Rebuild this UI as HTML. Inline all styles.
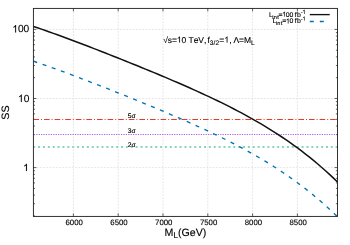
<!DOCTYPE html>
<html><head><meta charset="utf-8"><title>plot</title>
<style>
html,body{margin:0;padding:0;background:#fff;}
body{width:350px;height:245px;overflow:hidden;font-family:"Liberation Sans",sans-serif;}
svg{display:block;will-change:transform;}
text{font-family:"Liberation Sans",sans-serif;fill:#000;stroke:#000;stroke-width:0.12px;text-rendering:geometricPrecision;}
</style></head><body>
<svg width="350" height="245" viewBox="0 0 350 245">
<rect x="0" y="0" width="350" height="245" fill="#ffffff"/>

<g stroke="#dcdcdc" stroke-width="0.7" stroke-dasharray="2 1.2" fill="none">
<line x1="73.40" y1="8.4" x2="73.40" y2="216.4"/>
<line x1="118.20" y1="8.4" x2="118.20" y2="216.4"/>
<line x1="163.00" y1="8.4" x2="163.00" y2="216.4"/>
<line x1="207.80" y1="8.4" x2="207.80" y2="216.4"/>
<line x1="252.60" y1="8.4" x2="252.60" y2="216.4"/>
<line x1="297.40" y1="8.4" x2="297.40" y2="216.4"/>
<line x1="33.4" y1="29.40" x2="337.5" y2="29.40"/>
<line x1="33.4" y1="98.50" x2="337.5" y2="98.50"/>
<line x1="33.4" y1="167.60" x2="337.5" y2="167.60"/>
</g>
<g stroke="#222" stroke-width="0.7" fill="none">
<line x1="73.40" y1="216.4" x2="73.40" y2="213.4"/>
<line x1="73.40" y1="8.4" x2="73.40" y2="11.4"/>
<line x1="118.20" y1="216.4" x2="118.20" y2="213.4"/>
<line x1="118.20" y1="8.4" x2="118.20" y2="11.4"/>
<line x1="163.00" y1="216.4" x2="163.00" y2="213.4"/>
<line x1="163.00" y1="8.4" x2="163.00" y2="11.4"/>
<line x1="207.80" y1="216.4" x2="207.80" y2="213.4"/>
<line x1="207.80" y1="8.4" x2="207.80" y2="11.4"/>
<line x1="252.60" y1="216.4" x2="252.60" y2="213.4"/>
<line x1="252.60" y1="8.4" x2="252.60" y2="11.4"/>
<line x1="297.40" y1="216.4" x2="297.40" y2="213.4"/>
<line x1="297.40" y1="8.4" x2="297.40" y2="11.4"/>
<line x1="33.4" y1="29.40" x2="36.4" y2="29.40"/>
<line x1="337.5" y1="29.40" x2="334.5" y2="29.40"/>
<line x1="33.4" y1="98.50" x2="36.4" y2="98.50"/>
<line x1="337.5" y1="98.50" x2="334.5" y2="98.50"/>
<line x1="33.4" y1="167.60" x2="36.4" y2="167.60"/>
<line x1="337.5" y1="167.60" x2="334.5" y2="167.60"/>
<line x1="33.4" y1="215.90" x2="35.0" y2="215.90"/>
<line x1="337.5" y1="215.90" x2="335.9" y2="215.90"/>
<line x1="33.4" y1="203.73" x2="35.0" y2="203.73"/>
<line x1="337.5" y1="203.73" x2="335.9" y2="203.73"/>
<line x1="33.4" y1="195.10" x2="35.0" y2="195.10"/>
<line x1="337.5" y1="195.10" x2="335.9" y2="195.10"/>
<line x1="33.4" y1="188.40" x2="35.0" y2="188.40"/>
<line x1="337.5" y1="188.40" x2="335.9" y2="188.40"/>
<line x1="33.4" y1="182.93" x2="35.0" y2="182.93"/>
<line x1="337.5" y1="182.93" x2="335.9" y2="182.93"/>
<line x1="33.4" y1="178.30" x2="35.0" y2="178.30"/>
<line x1="337.5" y1="178.30" x2="335.9" y2="178.30"/>
<line x1="33.4" y1="174.30" x2="35.0" y2="174.30"/>
<line x1="337.5" y1="174.30" x2="335.9" y2="174.30"/>
<line x1="33.4" y1="170.76" x2="35.0" y2="170.76"/>
<line x1="337.5" y1="170.76" x2="335.9" y2="170.76"/>
<line x1="33.4" y1="146.80" x2="35.0" y2="146.80"/>
<line x1="337.5" y1="146.80" x2="335.9" y2="146.80"/>
<line x1="33.4" y1="134.63" x2="35.0" y2="134.63"/>
<line x1="337.5" y1="134.63" x2="335.9" y2="134.63"/>
<line x1="33.4" y1="126.00" x2="35.0" y2="126.00"/>
<line x1="337.5" y1="126.00" x2="335.9" y2="126.00"/>
<line x1="33.4" y1="119.30" x2="35.0" y2="119.30"/>
<line x1="337.5" y1="119.30" x2="335.9" y2="119.30"/>
<line x1="33.4" y1="113.83" x2="35.0" y2="113.83"/>
<line x1="337.5" y1="113.83" x2="335.9" y2="113.83"/>
<line x1="33.4" y1="109.20" x2="35.0" y2="109.20"/>
<line x1="337.5" y1="109.20" x2="335.9" y2="109.20"/>
<line x1="33.4" y1="105.20" x2="35.0" y2="105.20"/>
<line x1="337.5" y1="105.20" x2="335.9" y2="105.20"/>
<line x1="33.4" y1="101.66" x2="35.0" y2="101.66"/>
<line x1="337.5" y1="101.66" x2="335.9" y2="101.66"/>
<line x1="33.4" y1="77.70" x2="35.0" y2="77.70"/>
<line x1="337.5" y1="77.70" x2="335.9" y2="77.70"/>
<line x1="33.4" y1="65.53" x2="35.0" y2="65.53"/>
<line x1="337.5" y1="65.53" x2="335.9" y2="65.53"/>
<line x1="33.4" y1="56.90" x2="35.0" y2="56.90"/>
<line x1="337.5" y1="56.90" x2="335.9" y2="56.90"/>
<line x1="33.4" y1="50.20" x2="35.0" y2="50.20"/>
<line x1="337.5" y1="50.20" x2="335.9" y2="50.20"/>
<line x1="33.4" y1="44.73" x2="35.0" y2="44.73"/>
<line x1="337.5" y1="44.73" x2="335.9" y2="44.73"/>
<line x1="33.4" y1="40.10" x2="35.0" y2="40.10"/>
<line x1="337.5" y1="40.10" x2="335.9" y2="40.10"/>
<line x1="33.4" y1="36.10" x2="35.0" y2="36.10"/>
<line x1="337.5" y1="36.10" x2="335.9" y2="36.10"/>
<line x1="33.4" y1="32.56" x2="35.0" y2="32.56"/>
<line x1="337.5" y1="32.56" x2="335.9" y2="32.56"/>
</g>
<line x1="33.4" y1="119.5" x2="337.5" y2="119.5" stroke="#e5392b" stroke-width="1" stroke-dasharray="5.6 2 1 2"/>
<line x1="33.4" y1="134.5" x2="337.5" y2="134.5" stroke="#b05ae6" stroke-width="1.15" stroke-dasharray="1.2 1.22" stroke-dashoffset="-0.4"/>
<line x1="33.4" y1="147.0" x2="337.5" y2="147.0" stroke="#8ad4be" stroke-width="2" stroke-dasharray="2 2.88" stroke-dashoffset="-4.66"/>
<clipPath id="c"><rect x="33.4" y="8.4" width="304.1" height="208.0"/></clipPath>
<path d="M33.40,61.22 L36.44,62.24 L39.48,63.28 L42.53,64.32 L45.57,65.38 L48.61,66.45 L51.65,67.53 L54.69,68.61 L57.73,69.71 L60.78,70.82 L63.82,71.93 L66.86,73.06 L69.90,74.19 L72.94,75.32 L75.98,76.47 L79.03,77.62 L82.07,78.78 L85.11,79.94 L88.15,81.10 L91.19,82.28 L94.24,83.45 L97.28,84.64 L100.32,85.82 L103.36,87.01 L106.40,88.21 L109.44,89.41 L112.49,90.61 L115.53,91.82 L118.57,93.03 L121.61,94.24 L124.65,95.46 L127.69,96.68 L130.74,97.91 L133.78,99.14 L136.82,100.37 L139.86,101.61 L142.90,102.85 L145.95,104.10 L148.99,105.35 L152.03,106.61 L155.07,107.87 L158.11,109.14 L161.15,110.41 L164.20,111.69 L167.24,112.98 L170.28,114.27 L173.32,115.57 L176.36,116.88 L179.40,118.19 L182.45,119.52 L185.49,120.85 L188.53,122.19 L191.57,123.54 L194.61,124.91 L197.66,126.28 L200.70,127.67 L203.74,129.07 L206.78,130.48 L209.82,131.90 L212.86,133.34 L215.91,134.80 L218.95,136.27 L221.99,137.76 L225.03,139.26 L228.07,140.79 L231.11,142.33 L234.16,143.90 L237.20,145.48 L240.24,147.09 L243.28,148.71 L246.32,150.37 L249.36,152.05 L252.41,153.75 L255.45,155.48 L258.49,157.24 L261.53,159.03 L264.57,160.84 L267.62,162.69 L270.66,164.58 L273.70,166.49 L276.74,168.44 L279.78,170.43 L282.82,172.45 L285.87,174.51 L288.91,176.62 L291.95,178.76 L294.99,180.95 L298.03,183.18 L301.07,185.45 L304.12,187.78 L307.16,190.15 L310.20,192.57 L313.24,195.04 L316.28,197.57 L319.33,200.15 L322.37,202.79 L325.41,205.48 L328.45,208.23 L331.49,211.05 L334.53,213.92 L337.50,216.79" fill="none" stroke="#0072b2" stroke-width="1.35" stroke-dasharray="4.0 5.692" clip-path="url(#c)"/>
<path d="M33.40,26.42 L37.40,27.77 L41.40,29.13 L45.40,30.52 L49.41,31.93 L53.41,33.35 L57.41,34.79 L61.41,36.25 L65.41,37.72 L69.41,39.20 L73.41,40.70 L77.41,42.21 L81.42,43.73 L85.42,45.25 L89.42,46.79 L93.42,48.34 L97.42,49.89 L101.42,51.45 L105.42,53.02 L109.43,54.60 L113.43,56.18 L117.43,57.77 L121.43,59.37 L125.43,60.97 L129.43,62.58 L133.43,64.20 L137.43,65.82 L141.44,67.45 L145.44,69.09 L149.44,70.74 L153.44,72.39 L157.44,74.06 L161.44,75.73 L165.44,77.42 L169.44,79.11 L173.45,80.82 L177.45,82.54 L181.45,84.28 L185.45,86.03 L189.45,87.80 L193.45,89.59 L197.45,91.39 L201.46,93.22 L205.46,95.06 L209.46,96.93 L213.46,98.83 L217.46,100.75 L221.46,102.70 L225.46,104.68 L229.46,106.69 L233.47,108.74 L237.47,110.82 L241.47,112.94 L245.47,115.10 L249.47,117.30 L253.47,119.55 L257.47,121.85 L261.48,124.19 L265.48,126.59 L269.48,129.04 L273.48,131.55 L277.48,134.12 L281.48,136.75 L285.48,139.45 L289.48,142.22 L293.49,145.06 L297.49,147.97 L301.49,150.97 L305.49,154.04 L309.49,157.20 L313.49,160.45 L317.49,163.79 L321.49,167.22 L325.50,170.76 L329.50,174.39 L333.50,178.14 L337.50,181.99" fill="none" stroke="#111" stroke-width="1.5" stroke-linejoin="round"/>
<rect x="33.4" y="8.4" width="304.10" height="208.00" fill="none" stroke="#1c1c1c" stroke-width="0.9"/>
<text x="74.20" y="225.4" font-size="7.8" text-anchor="middle">6000</text>
<text x="119.00" y="225.4" font-size="7.8" text-anchor="middle">6500</text>
<text x="163.80" y="225.4" font-size="7.8" text-anchor="middle">7000</text>
<text x="208.60" y="225.4" font-size="7.8" text-anchor="middle">7500</text>
<text x="253.40" y="225.4" font-size="7.8" text-anchor="middle">8000</text>
<text x="298.20" y="225.4" font-size="7.8" text-anchor="middle">8500</text>
<text x="29.3" y="32.40" font-size="10.2" text-anchor="end">00</text>
<path d="M763 0H583V1147Q518 1085 412.5 1023T223 930V1104Q374 1175 487 1276T647 1472H763Z" transform="translate(12.29,32.40) scale(0.00498,-0.00498)" fill="#000" stroke="#000" stroke-width="20.1"/>
<text x="29.3" y="101.90" font-size="10.2" text-anchor="end">0</text>
<path d="M763 0H583V1147Q518 1085 412.5 1023T223 930V1104Q374 1175 487 1276T647 1472H763Z" transform="translate(17.96,101.90) scale(0.00498,-0.00498)" fill="#000" stroke="#000" stroke-width="20.1"/>
<path d="M763 0H583V1147Q518 1085 412.5 1023T223 930V1104Q374 1175 487 1276T647 1472H763Z" transform="translate(23.08,171.10) scale(0.00498,-0.00498)" fill="#000" stroke="#000" stroke-width="20.1"/>
<text x="164.6" y="235.8" font-size="10.65">M<tspan font-size="8.2" dy="2.4">L</tspan><tspan dy="-2.4">(GeV)</tspan></text>
<text transform="translate(9.2,112.6) rotate(-90)" font-size="10.7" text-anchor="middle">SS</text>
<text x="127.8" y="117.9" font-size="6.7">5σ</text>
<text x="127.8" y="132.9" font-size="6.7">3σ</text>
<text x="127.8" y="146.6" font-size="6.7">2σ</text>
<text x="163.20" y="42.6" font-size="8.5">√</text>
<path d="M763 0H583V1147Q518 1085 412.5 1023T223 930V1104Q374 1175 487 1276T647 1472H763Z" transform="translate(176.80,42.60) scale(0.00415,-0.00415)" fill="#000" stroke="#000" stroke-width="24.1"/>
<text x="167.68 171.88 181.48 188.50 193.64 198.32 203.95" y="42.6" font-size="8.5">s=0TeV,</text>
<text x="207.50" y="42.6" font-size="8.5">f</text>
<text x="209.85 213.58 215.48" y="44.7" font-size="6.6">3/2</text>
<path d="M763 0H583V1147Q518 1085 412.5 1023T223 930V1104Q374 1175 487 1276T647 1472H763Z" transform="translate(224.26,42.60) scale(0.00415,-0.00415)" fill="#000" stroke="#000" stroke-width="24.1"/>
<text x="219.30" y="42.6" font-size="8.5">=</text>
<text x="229.20" y="42.6" font-size="8.5">,</text>
<text x="233.48 239.12 244.04" y="42.6" font-size="8.5">Λ=M</text>
<text x="250.90" y="44.7" font-size="6.6">L</text>
<text x="269.00" y="16.6" font-size="6.9">L</text>
<text x="272.27 273.77 277.15" y="18.6" font-size="5.6">int</text>
<path d="M763 0H583V1147Q518 1085 412.5 1023T223 930V1104Q374 1175 487 1276T647 1472H763Z" transform="translate(282.29,16.60) scale(0.00337,-0.00337)" fill="#000" stroke="#000" stroke-width="29.7"/>
<text x="278.55 285.85 289.40" y="16.6" font-size="6.9">=00</text>
<text x="294.72 297.01" y="16.6" font-size="6.9">fb</text>
<path d="M763 0H583V1147Q518 1085 412.5 1023T223 930V1104Q374 1175 487 1276T647 1472H763Z" transform="translate(302.41,13.90) scale(0.00283,-0.00283)" fill="#000" stroke="#000" stroke-width="35.3"/>
<text x="300.86" y="13.9" font-size="5.8">-</text>
<text x="272.60" y="23.4" font-size="6.9">L</text>
<text x="275.87 277.37 280.75" y="25.4" font-size="5.6">int</text>
<path d="M763 0H583V1147Q518 1085 412.5 1023T223 930V1104Q374 1175 487 1276T647 1472H763Z" transform="translate(285.87,23.40) scale(0.00337,-0.00337)" fill="#000" stroke="#000" stroke-width="29.7"/>
<text x="282.14 289.41" y="23.4" font-size="6.9">=0</text>
<text x="294.72 297.01" y="23.4" font-size="6.9">fb</text>
<path d="M763 0H583V1147Q518 1085 412.5 1023T223 930V1104Q374 1175 487 1276T647 1472H763Z" transform="translate(302.41,20.60) scale(0.00283,-0.00283)" fill="#000" stroke="#000" stroke-width="35.3"/>
<text x="300.86" y="20.6" font-size="5.8">-</text>
<line x1="309.8" y1="14.6" x2="329.7" y2="14.6" stroke="#111" stroke-width="1.35"/>
<line x1="309.8" y1="21.5" x2="329.7" y2="21.5" stroke="#0072b2" stroke-width="1.35" stroke-dasharray="4 6"/>
</svg></body></html>
